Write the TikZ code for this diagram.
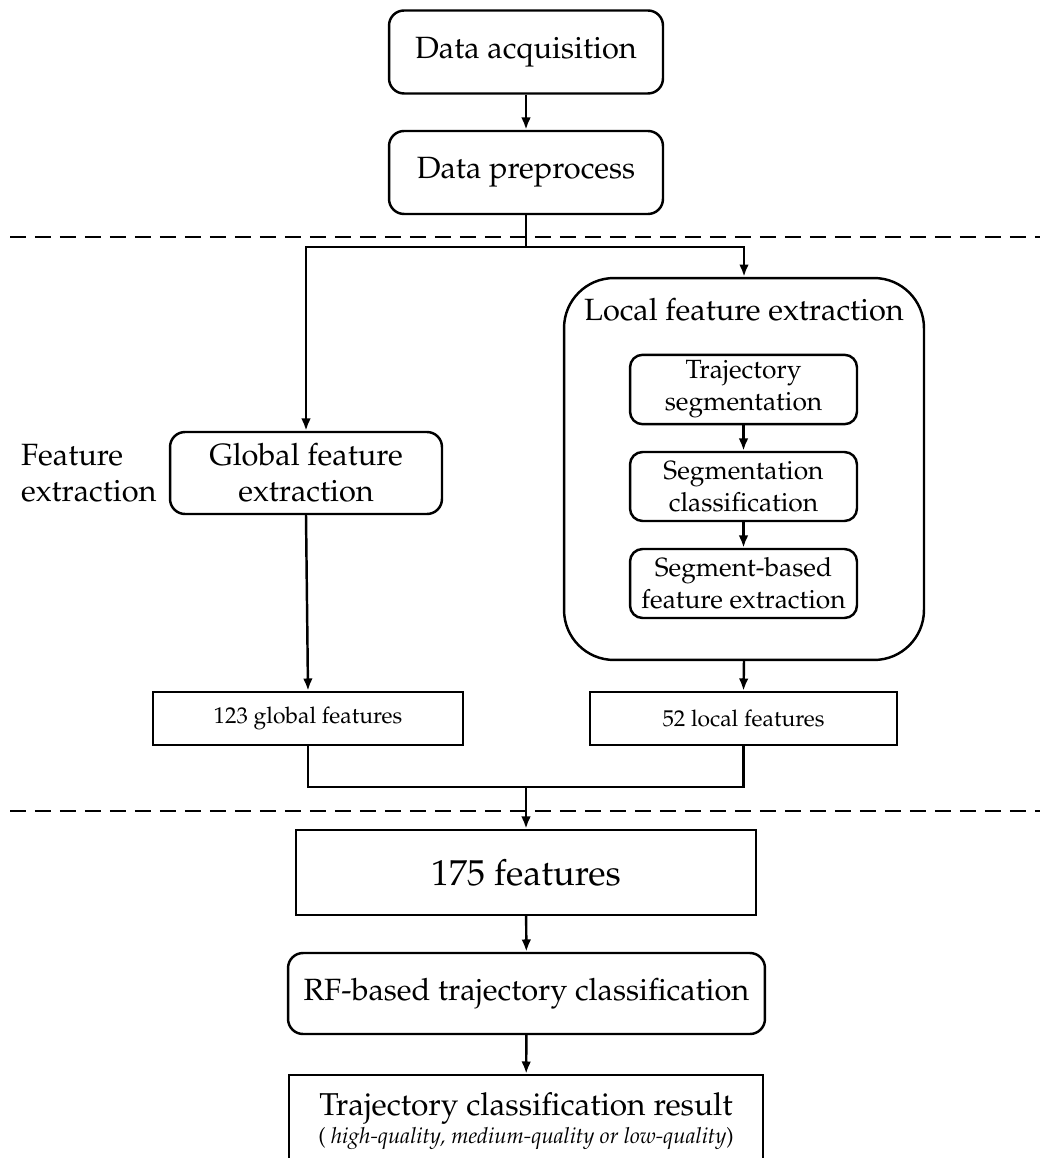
\documentclass[tikz,border=0pt]{standalone}
\usepackage[T1]{fontenc}
\usepackage{mathpazo}
\usetikzlibrary{arrows.meta}

\begin{document}
\begin{tikzpicture}[x=0.02cm,y=-0.02cm,line width=1.4pt,
    every node/.style={font=\fontsize{17.5}{20.5}\selectfont},
    stage/.style={draw,rounded corners=0.3cm,align=center,
      minimum width=5.48cm,minimum height=1.66cm},
    substage/.style={draw,rounded corners=0.25cm,align=center,
      minimum width=4.54cm,minimum height=1.38cm,
      font=\fontsize{15}{18.2}\selectfont},
    featbox/.style={draw,align=center,minimum height=1.06cm,
      font=\fontsize{13}{15}\selectfont},
    flow/.style={-{Latex[length=7pt,width=5.5pt]}},
    sep/.style={dash pattern=on 0.32cm off 0.18cm}]

    \useasboundingbox (0,0) rectangle (1049,1158);
    \clip (0,0) rectangle (1049,1158);

    % preprocessing
    \node[stage] (acq) at (526,52) {Data acquisition};
    \node[stage] (pre) at (526,172.5) {Data preprocess};

    \draw[sep] (10,237) -- (1040,237);

    % feature extraction
    \node[align=left,anchor=west] (fe) at (14,473) {Feature\\extraction};

    \node[stage,minimum width=5.44cm,minimum height=1.64cm] (glob) at (306,473)
    {Global feature\\extraction};

    \node[draw,rounded corners=1cm,minimum width=7.2cm,minimum height=7.64cm,
      label={[anchor=north,yshift=-0.28cm]north:Local feature extraction}]
    (loc) at (744,469) {};

    \node[substage] (seg) at (743.5,389.5) {Trajectory\\segmentation};
    \node[substage] (segcls) at (743.5,486.5) {Segmentation\\classification};
    \node[substage] (segfeat) at (743.5,583.5) {Segment-based\\feature extraction};

    \node[featbox,minimum width=6.2cm] (g123) at (308,718.5) {123 global features};
    \node[featbox,minimum width=6.14cm] (l52) at (743.5,718.5) {52 local features};

    \draw[sep] (10,811) -- (1040,811);

    % classification
    \node[draw,minimum width=9.2cm,minimum height=1.7cm,
      font=\fontsize{20.5}{25}\selectfont] (f175) at (526,872.5) {175 features};

    \node[stage,minimum width=9.54cm,minimum height=1.62cm] (rf) at (526.5,993.5)
    {RF-based trajectory classification};

    \node[draw,align=center,minimum width=9.48cm,minimum height=1.84cm,
      font=\fontsize{18}{20.5}\selectfont] (res) at (526,1121)
    {Trajectory classification result\\[-5pt]
      {\fontsize{12.6}{14}\selectfont( \textit{high-quality, medium-quality or low-quality})}};

    % connectors
    \coordinate (split) at (526,247);
    \coordinate (merge) at (526,787);

    \draw[flow] (acq) -- (pre);
    \draw (pre.south) -- (split);
    \draw[flow] (split) -| (glob.north);
    \draw[flow] (split) -| (loc.north);

    \draw[flow] (seg) -- (segcls);
    \draw[flow] (segcls) -- (segfeat);

    \draw[flow] (glob.south) -- (g123.north);
    \draw[flow] (loc.south) -- (l52.north);

    \draw (g123.south) |- (merge);
    \draw (l52.south) |- (merge);
    \draw[flow] (merge) -- (f175.north);

    \draw[flow] (f175) -- (rf);
    \draw[flow] (rf) -- (res);

\end{tikzpicture}
\end{document}
